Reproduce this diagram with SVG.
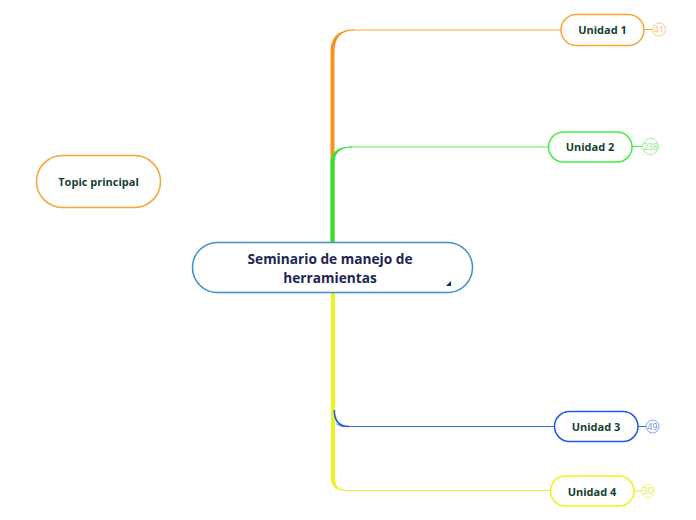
<svg xmlns="http://www.w3.org/2000/svg" width="696" height="520" viewBox="0 0 696 520">
<style>
.node{fill:#fff;stroke-width:1.5}
.lbl{font-family:"Open Sans","Noto Sans",sans-serif;font-weight:700;font-size:11px;fill:#123f30;text-anchor:middle}
.main{font-family:"Open Sans","Noto Sans",sans-serif;font-weight:700;font-size:13.7px;fill:#1c2652;text-anchor:middle}
.badge{fill:#fff;stroke-width:0.8}
.btxt{font-family:"Open Sans","Noto Sans",sans-serif;font-size:9px;text-anchor:middle}
.thin{fill:none;stroke-width:1}
</style>
<rect width="696" height="520" fill="#fff"/>
<g id="connectors">
  <!-- orange -->
  <path d="M330.5 242 L330.5 52 C330.5 37 339 29.5 354 29.5 L354 30.5 C341 30.5 334.5 38 334.5 52 L334.5 242 Z" fill="#f7941d"/>
  <path class="thin" d="M352 30 L561 30" stroke="#f7a631"/>
  <!-- green -->
  <path d="M330.5 242 L330.5 163 C330.5 152 338 146.5 352 146.5 L352 147.5 C340 147.5 334.5 153 334.5 163 L334.5 242 Z" fill="#2ee62e"/>
  <path class="thin" d="M350 147 L548 147" stroke="#55ee55"/>
  <!-- blue -->
  <path d="M331 292 L331 412 C331 421 337 426 346 426 L346 427 C336 427 333.5 422 333.5 414 L333.5 292 Z" fill="#2158e8"/>
  <path class="thin" d="M344 426.5 L554 426.5" stroke="#3a6cf0"/>
  <!-- yellow -->
  <path d="M331 292 L331 478 C331 487 337 491 348 491 L348 490 C338 490 335 486 335 478 L335 292 Z" fill="#eef21a"/>
  <path class="thin" d="M346 490.5 L550 490.5" stroke="#f0f030"/>
  <path d="M334.3 410 C334.3 421 339 426.5 349 426.5" fill="none" stroke="#2158e8" stroke-width="1.6"/>
  <!-- badge links -->
  <line x1="644" y1="29.5" x2="652.5" y2="29.5" stroke="#f7a631" stroke-width="1"/>
  <line x1="632" y1="146.5" x2="642.5" y2="146.5" stroke="#44ee44" stroke-width="1"/>
  <line x1="638" y1="426.5" x2="646" y2="426.5" stroke="#3a6cf0" stroke-width="1"/>
  <line x1="634" y1="491" x2="641" y2="491" stroke="#f0f030" stroke-width="1"/>
</g>
<g id="main">
  <rect class="node" x="192.5" y="242.5" width="280" height="50" rx="25" stroke="#3c8fcc"/>
  <text class="main" x="330" y="264">Seminario de manejo de</text>
  <text class="main" x="330" y="283">herramientas</text>
  <path d="M446 286 L451 286 L451 281 Z" fill="#1c2652"/>
</g>
<g id="topic">
  <rect class="node" x="36.5" y="155.5" width="124" height="52" rx="26" stroke="#f7a631"/>
  <text class="lbl" x="98.5" y="186">Topic principal</text>
</g>
<g id="u1">
  <rect class="node" x="561" y="14.5" width="83" height="31" rx="15.5" stroke="#f7a631"/>
  <text class="lbl" x="602.5" y="34">Unidad 1</text>
  <circle class="badge" cx="659" cy="29.5" r="6.5" stroke="#f9c070"/>
  <text class="btxt" x="659" y="32.6" fill="#f9c070">41</text>
</g>
<g id="u2">
  <rect class="node" x="548.5" y="132" width="83.5" height="30" rx="15" stroke="#44ee44"/>
  <text class="lbl" x="590" y="151">Unidad 2</text>
  <circle class="badge" cx="650.5" cy="146.5" r="8" stroke="#7cf07c"/>
  <text class="btxt" x="650.5" y="149.6" fill="#7cf07c" style="font-size:8.5px">238</text>
</g>
<g id="u3">
  <rect class="node" x="554.5" y="411.5" width="83.5" height="30" rx="15" stroke="#2158e8"/>
  <text class="lbl" x="596" y="431">Unidad 3</text>
  <circle class="badge" cx="652.5" cy="426.5" r="6.5" stroke="#6e90f0"/>
  <text class="btxt" x="652.5" y="429.6" fill="#6e90f0">49</text>
</g>
<g id="u4">
  <rect class="node" x="550.5" y="476" width="83.5" height="30" rx="15" stroke="#eef21a"/>
  <text class="lbl" x="592" y="495.5">Unidad 4</text>
  <circle class="badge" cx="648" cy="491" r="6.5" stroke="#f0f040"/>
  <text class="btxt" x="648" y="494.1" fill="#e8e840">30</text>
</g>
</svg>
